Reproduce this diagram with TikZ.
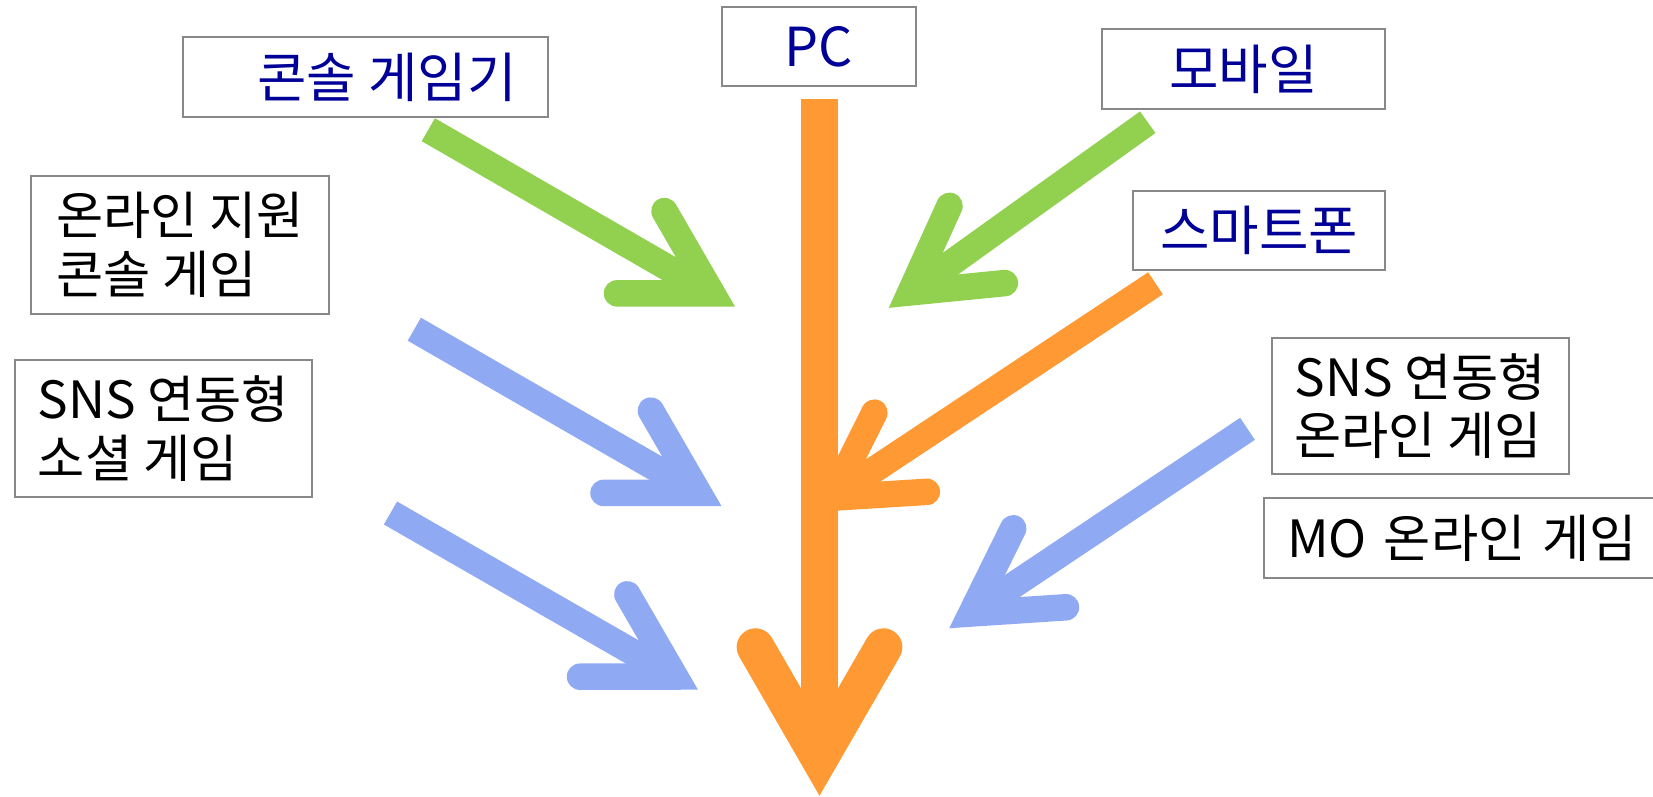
\documentclass[tikz,border=0pt]{standalone}
\usepackage{fontspec}
\setmainfont{Noto Sans CJK KR}
\usetikzlibrary{calc}

\definecolor{gamegreen}{RGB}{146,208,80}
\definecolor{gameorange}{RGB}{255,153,51}
\definecolor{gameblue}{RGB}{143,170,243}
\definecolor{labelblue}{RGB}{0,0,153}
\definecolor{framegray}{RGB}{136,136,136}

% thick arrow: straight shaft and an open head with round ends
% #1 colour, #2 width, #3 barb length, #4 tail, #5 tip
\newcommand\fatarrow[5]{%
  \draw[#1,line width=#2] (#4) -- (#5);
  \draw[#1,line width=#2,line cap=round,line join=miter]
    ($(#5)!#3!30:(#4)$) -- (#5) -- ($(#5)!#3!-30:(#4)$);
}

\begin{document}
\begin{tikzpicture}[x=0.1mm,y=-0.1mm,
  font=\fontsize{14.6pt}{16.6pt}\selectfont,
  platform/.style={draw=framegray,line width=0.2mm,text=labelblue,inner sep=0pt,
    font=\fontsize{15.3pt}{17pt}\selectfont},
  genre/.style={draw=framegray,line width=0.2mm,align=left,inner xsep=2.3mm,inner ysep=0pt,anchor=north west}]
\useasboundingbox (0,0) rectangle (1653,796);

% platforms
\node[platform,minimum width=36.5mm,minimum height=7.97mm] (console) at (365.5,77.2) {\hspace*{4.3mm}콘솔 게임기};
\node[platform,minimum width=19.45mm,minimum height=7.93mm] (pc) at (818.8,46.3) {PC};
\node[platform,minimum width=28.3mm,minimum height=8mm] (mobile) at (1243.5,69) {모바일};
\node[platform,minimum width=25.2mm,minimum height=7.93mm] (phone) at (1259,230.4) {스마트폰};

% game types
\node[genre,minimum width=29.86mm,minimum height=13.77mm] (consolegame) at (29.6,175) {온라인 지원\\콘솔 게임};
\node[genre,minimum width=29.17mm,minimum height=13.67mm] (socialgame) at (13.8,359.3) {SNS 연동형\\소셜 게임};
\node[genre,minimum width=29.7mm,minimum height=13.66mm] (snsonline) at (1270.5,336.7) {SNS 연동형\\온라인 게임};
% runs past the right edge of the page
\node[genre,text width=36mm,minimum height=7.94mm] (mogame) at (1263,497.3) {MO 온라인 게임};

% arrow ends
\coordinate (pcTail) at (819.5,99);
\coordinate (pcTip) at (819.5,758);
\coordinate (consoleTail) at (428.3,129.7);
\coordinate (consoleTip) at (712,293.3);
\coordinate (onlineTail) at (414.3,329.2);
\coordinate (onlineTip) at (698.5,492.8);
\coordinate (socialTail) at (390.5,513);
\coordinate (socialTip) at (675,676.5);
\coordinate (mobileTail) at (1147.7,122.2);
\coordinate (mobileTip) at (910.3,292.4);
\coordinate (phoneTail) at (1155.5,283.3);
\coordinate (phoneTip) at (832,497.7);
\coordinate (snsTail) at (1247.5,428.8);
\coordinate (snsTip) at (971.2,613.5);

\fatarrow{gameorange}{3.77mm}{12.8mm}{pcTail}{pcTip}
\fatarrow{gamegreen}{2.65mm}{9.5mm}{consoleTail}{consoleTip}
\fatarrow{gameblue}{2.65mm}{9.5mm}{onlineTail}{onlineTip}
\fatarrow{gameblue}{2.65mm}{9.5mm}{socialTail}{socialTip}
\fatarrow{gamegreen}{2.65mm}{9.5mm}{mobileTail}{mobileTip}
\fatarrow{gameorange}{2.65mm}{9.5mm}{phoneTail}{phoneTip}
\fatarrow{gameblue}{2.65mm}{9.5mm}{snsTail}{snsTip}
\end{tikzpicture}
\end{document}
